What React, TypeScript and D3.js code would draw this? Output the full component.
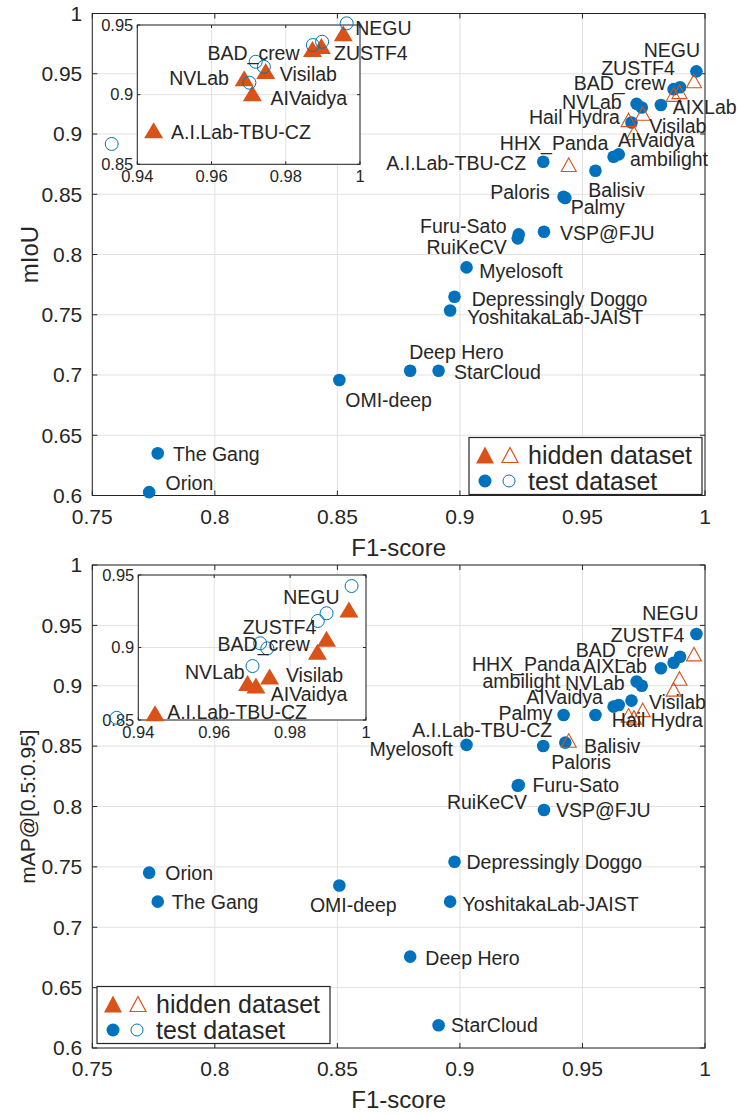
import React, { useEffect, useRef } from "react";
import * as d3 from "d3";

const W = 737;
const H = 1115;
const BLUE = "#0072BD";
const RED = "#D95319";
const INK = "#262626";
const GRID = "#e2e2e2";
const FONT = "'Liberation Sans', Arial, Helvetica, sans-serif";

// test dataset (filled circles in main axes)
const teams = [
  "NEGU", "ZUSTF4", "BAD_crew", "AIXLab", "NVLab", "Visilab", "AIVaidya", "Hail Hydra",
  "ambilight", "A.I.Lab-TBU-CZ", "Balisiv", "Palmy", "Paloris", "Furu-Sato", "RuiKeCV",
  "VSP@FJU", "Myelosoft", "Depressingly Doggo", "YoshitakaLab-JAIST", "Deep Hero",
  "StarCloud", "OMI-deep", "The Gang", "Orion",
];
const f1 = [
  0.9965, 0.9898, 0.9872, 0.982, 0.9721, 0.9742, 0.97, 0.9648,
  0.9627, 0.934, 0.9553, 0.9423, 0.943, 0.924, 0.9236,
  0.9343, 0.9027, 0.8978, 0.896, 0.8797,
  0.8913, 0.8508, 0.7767, 0.7732,
];
const miou = [
  0.952, 0.9388, 0.9372, 0.9241, 0.925, 0.922, 0.9095, 0.8831,
  0.8811, 0.877, 0.8695, 0.8479, 0.8469, 0.8167, 0.8134,
  0.8189, 0.7893, 0.7649, 0.7535, 0.7035,
  0.7035, 0.6958, 0.635, 0.6028,
];
const mapScore = [
  0.9429, 0.924, 0.919, 0.9145, 0.9035, 0.9, 0.8877, 0.8841,
  0.8827, 0.8501, 0.8758, 0.8758, 0.8529, 0.8178, 0.8172,
  0.7971, 0.851, 0.7543, 0.7212, 0.6757,
  0.6189, 0.7346, 0.7212, 0.7452,
];

// hidden dataset (triangles)
const hiddenTeams = ["NEGU", "ZUSTF4", "BAD_crew", "Visilab", "NVLab", "AIVaidya", "A.I.Lab-TBU-CZ"];
const hiddenF1 = [0.9955, 0.9896, 0.9872, 0.9746, 0.9688, 0.971, 0.9444];
const hiddenMiou = [0.944, 0.935, 0.9327, 0.917, 0.9117, 0.901, 0.8745];
const hiddenMap = [0.9262, 0.906, 0.897, 0.88, 0.8755, 0.8738, 0.8546];

// test values as drawn in the insets (open circles)
const insetF1Top = [0.9964, 0.9898, 0.9873, 0.9741, 0.9719, 0.9702, 0.9331];
const insetMiou = [0.9512, 0.938, 0.9356, 0.92, 0.9236, 0.9086, 0.8646];
const insetF1Bottom = [0.9962, 0.9896, 0.9873, 0.974, 0.9721, 0.9701, 0.9343];
const insetMap = [0.9424, 0.9236, 0.9183, 0.8994, 0.9029, 0.8872, 0.8515];

const xTicks = [0.75, 0.8, 0.85, 0.9, 0.95, 1];
const yTicks = [0.6, 0.65, 0.7, 0.75, 0.8, 0.85, 0.9, 0.95, 1];
const insetXTicks = [0.94, 0.96, 0.98, 1];
const insetYTicks = [0.85, 0.9, 0.95];

type Lbl = [string, number, number, "start" | "end"];

const miouLabels: Lbl[] = [
  ["NEGU", 0.998, 0.9697, "end"],
  ["ZUSTF4", 0.9877, 0.955, "end"],
  ["BAD_crew", 0.984, 0.942, "end"],
  ["NVLab", 0.966, 0.9268, "end"],
  ["AIXLab", 0.9868, 0.9226, "start"],
  ["Hail Hydra", 0.9653, 0.9138, "end"],
  ["Visilab", 0.9773, 0.9066, "start"],
  ["AIVaidya", 0.9645, 0.895, "start"],
  ["HHX_Panda", 0.9163, 0.8923, "start"],
  ["A.I.Lab-TBU-CZ", 0.927, 0.8762, "end"],
  ["ambilight", 0.9694, 0.879, "start"],
  ["Balisiv", 0.9524, 0.8535, "start"],
  ["Paloris", 0.9367, 0.8521, "end"],
  ["Palmy", 0.9452, 0.8391, "start"],
  ["Furu-Sato", 0.9191, 0.8239, "end"],
  ["RuiKeCV", 0.9191, 0.8064, "end"],
  ["VSP@FJU", 0.9408, 0.8181, "start"],
  ["Myelosoft", 0.9079, 0.7865, "start"],
  ["Depressingly Doggo", 0.9048, 0.763, "start"],
  ["YoshitakaLab-JAIST", 0.903, 0.7478, "start"],
  ["Deep Hero", 0.8793, 0.7193, "start"],
  ["StarCloud", 0.8976, 0.7027, "start"],
  ["OMI-deep", 0.8532, 0.6792, "start"],
  ["The Gang", 0.7829, 0.6344, "start"],
  ["Orion", 0.7799, 0.6106, "start"],
];

const mapLabels: Lbl[] = [
  ["NEGU", 0.9974, 0.96, "end"],
  ["ZUSTF4", 0.9916, 0.9417, "end"],
  ["BAD_crew", 0.9849, 0.9296, "end"],
  ["HHX_Panda", 0.9049, 0.918, "start"],
  ["AIXLab", 0.9502, 0.916, "start"],
  ["ambilight", 0.9092, 0.9042, "start"],
  ["NVLab", 0.9429, 0.9023, "start"],
  ["AIVaidya", 0.9271, 0.8907, "start"],
  ["Visilab", 0.9771, 0.8866, "start"],
  ["Palmy", 0.9157, 0.8769, "start"],
  ["Hail Hydra", 0.962, 0.8714, "start"],
  ["A.I.Lab-TBU-CZ", 0.8806, 0.8634, "start"],
  ["Myelosoft", 0.8631, 0.8474, "start"],
  ["Balisiv", 0.9506, 0.8501, "start"],
  ["Paloris", 0.9373, 0.8369, "start"],
  ["Furu-Sato", 0.9296, 0.8176, "start"],
  ["RuiKeCV", 0.8947, 0.8033, "start"],
  ["VSP@FJU", 0.9392, 0.7967, "start"],
  ["Depressingly Doggo", 0.9027, 0.7535, "start"],
  ["Orion", 0.7798, 0.7447, "start"],
  ["The Gang", 0.7824, 0.7207, "start"],
  ["OMI-deep", 0.8388, 0.7185, "start"],
  ["YoshitakaLab-JAIST", 0.9011, 0.7193, "start"],
  ["Deep Hero", 0.8859, 0.6743, "start"],
  ["StarCloud", 0.8964, 0.619, "start"],
];

const miouInsetLabels: Lbl[] = [
  ["NEGU", 0.9987, 0.9476, "start"],
  ["ZUSTF4", 0.993, 0.9301, "start"],
  ["BAD_crew", 0.9589, 0.9297, "start"],
  ["Visilab", 0.9784, 0.9148, "start"],
  ["NVLab", 0.9486, 0.9117, "start"],
  ["AIVaidya", 0.9759, 0.8974, "start"],
  ["A.I.Lab-TBU-CZ", 0.9491, 0.873, "start"],
];

const mapInsetLabels: Lbl[] = [
  ["NEGU", 0.9782, 0.9346, "start"],
  ["ZUSTF4", 0.9675, 0.9139, "start"],
  ["BAD_crew", 0.9609, 0.9024, "start"],
  ["NVLab", 0.9523, 0.8833, "start"],
  ["Visilab", 0.9789, 0.881, "start"],
  ["AIVaidya", 0.9749, 0.8679, "start"],
  ["A.I.Lab-TBU-CZ", 0.9476, 0.8557, "start"],
];

const tri = (w: number, h: number) => `M0,${-h / 2}L${w / 2},${h / 2}L${-w / 2},${h / 2}Z`;
const fmt = (v: number) => String(+v.toFixed(2));

function drawAxesFrame(g, x, y, xt, yt, box, tick, fs, xlOff, ylOff) {
  g.append("rect")
    .attr("x", box.left).attr("y", box.top)
    .attr("width", box.right - box.left).attr("height", box.bottom - box.top)
    .attr("fill", "#fff");
  g.selectAll(null).data(xt).join("line")
    .attr("x1", (d) => x(d)).attr("x2", (d) => x(d))
    .attr("y1", box.top).attr("y2", box.bottom)
    .attr("stroke", GRID);
  g.selectAll(null).data(yt).join("line")
    .attr("y1", (d) => y(d)).attr("y2", (d) => y(d))
    .attr("x1", box.left).attr("x2", box.right)
    .attr("stroke", GRID);
  // inward ticks on all four sides
  const tk = g.append("g").attr("stroke", INK);
  xt.forEach((d) => {
    tk.append("line").attr("x1", x(d)).attr("x2", x(d)).attr("y1", box.bottom).attr("y2", box.bottom - tick);
    tk.append("line").attr("x1", x(d)).attr("x2", x(d)).attr("y1", box.top).attr("y2", box.top + tick);
  });
  yt.forEach((d) => {
    tk.append("line").attr("y1", y(d)).attr("y2", y(d)).attr("x1", box.left).attr("x2", box.left + tick);
    tk.append("line").attr("y1", y(d)).attr("y2", y(d)).attr("x1", box.right).attr("x2", box.right - tick);
  });
  g.append("rect")
    .attr("x", box.left).attr("y", box.top)
    .attr("width", box.right - box.left).attr("height", box.bottom - box.top)
    .attr("fill", "none").attr("stroke", INK).attr("stroke-width", 1);
  g.selectAll(null).data(xt).join("text")
    .attr("x", (d) => x(d)).attr("y", box.bottom + xlOff).attr("dy", "0.35em")
    .attr("text-anchor", "middle").attr("font-size", fs).attr("fill", INK)
    .text(fmt);
  g.selectAll(null).data(yt).join("text")
    .attr("x", box.left - ylOff).attr("y", (d) => y(d)).attr("dy", "0.35em")
    .attr("text-anchor", "end").attr("font-size", fs).attr("fill", INK)
    .text(fmt);
}

function drawLabels(g, x, y, labels: Lbl[]) {
  g.selectAll(null).data(labels).join("text")
    .attr("x", (d) => x(d[1])).attr("y", (d) => y(d[2])).attr("dy", "0.35em")
    .attr("text-anchor", (d) => d[3]).attr("font-size", 19.5).attr("fill", INK)
    .text((d) => d[0]);
}

function drawLegend(g, lx, ly) {
  const lg = g.append("g").attr("transform", `translate(${lx},${ly})`);
  lg.append("rect").attr("width", 233).attr("height", 57).attr("fill", "#fff")
    .attr("stroke", INK).attr("stroke-width", 1.2);
  lg.append("path").attr("d", tri(18, 17)).attr("transform", "translate(16,17.5)").attr("fill", RED);
  lg.append("path").attr("d", tri(16, 15)).attr("transform", "translate(41,17.5)")
    .attr("fill", "none").attr("stroke", RED).attr("stroke-width", 1.2);
  lg.append("circle").attr("cx", 16).attr("cy", 43.5).attr("r", 6.5).attr("fill", BLUE);
  lg.append("circle").attr("cx", 40).attr("cy", 43.5).attr("r", 6).attr("fill", "none")
    .attr("stroke", BLUE).attr("stroke-width", 1);
  lg.append("text").attr("x", 59).attr("y", 17.5).attr("dy", "0.35em").attr("font-size", 25)
    .attr("fill", INK).text("hidden dataset");
  lg.append("text").attr("x", 59).attr("y", 43.5).attr("dy", "0.35em").attr("font-size", 25)
    .attr("fill", INK).text("test dataset");
}

function drawPanel(svg, p) {
  const g = svg.append("g");
  const x = d3.scaleLinear().domain([0.75, 1]).range([p.box.left, p.box.right]);
  const y = d3.scaleLinear().domain([0.6, 1]).range([p.box.bottom, p.box.top]);
  drawAxesFrame(g, x, y, xTicks, yTicks, p.box, 5, 21, 21, 10);

  // axis titles
  g.append("text")
    .attr("x", (p.box.left + p.box.right) / 2).attr("y", p.box.bottom + 52).attr("dy", "0.35em")
    .attr("text-anchor", "middle").attr("font-size", 24).attr("fill", INK).text("F1-score");
  g.append("text")
    .attr("transform", `translate(${p.ylabX},${(p.box.top + p.box.bottom) / 2}) rotate(-90)`)
    .attr("dy", "0.35em").attr("text-anchor", "middle").attr("font-size", p.ylabSize)
    .attr("fill", INK).text(p.ylabel);

  // test dataset
  g.selectAll(null).data(teams.map((t, i) => ({ t, a: f1[i], b: p.testY[i] }))).join("circle")
    .attr("cx", (d) => x(d.a)).attr("cy", (d) => y(d.b)).attr("r", 6.3).attr("fill", BLUE);
  // hidden dataset
  g.selectAll(null).data(hiddenTeams.map((t, i) => ({ t, a: hiddenF1[i], b: p.hiddenY[i] }))).join("path")
    .attr("d", tri(15, 13.5))
    .attr("transform", (d) => `translate(${x(d.a)},${y(d.b)})`)
    .attr("fill", "none").attr("stroke", RED).attr("stroke-width", 1.1);

  drawLabels(g, x, y, p.labels);

  // inset
  const ib = p.inset;
  const ig = g.append("g");
  const ix = d3.scaleLinear().domain([0.94, 1]).range([ib.left, ib.right]);
  const iy = d3.scaleLinear().domain([0.85, 0.95]).range([ib.bottom, ib.top]);
  drawAxesFrame(ig, ix, iy, insetXTicks, insetYTicks, ib, 3, 16.5, 12, 4);
  ig.selectAll(null).data(hiddenTeams.map((t, i) => ({ t, a: hiddenF1[i], b: p.hiddenY[i] }))).join("path")
    .attr("d", tri(19, 16))
    .attr("transform", (d) => `translate(${ix(d.a)},${iy(d.b)})`)
    .attr("fill", RED);
  ig.selectAll(null).data(hiddenTeams.map((t, i) => ({ t, a: p.insetX[i], b: p.insetY[i] }))).join("circle")
    .attr("cx", (d) => ix(d.a)).attr("cy", (d) => iy(d.b)).attr("r", 6.5)
    .attr("fill", "none").attr("stroke", BLUE).attr("stroke-width", 1);
  drawLabels(ig, ix, iy, p.insetLabels);

  drawLegend(g, p.legend[0], p.legend[1]);
}

const App = () => {
  const ref = useRef<SVGSVGElement>(null);

  useEffect(() => {
    const svg = d3.select(ref.current);
    svg.selectAll("*").remove();

    drawPanel(svg, {
      box: { left: 92.3, right: 705, top: 13.5, bottom: 495.5 },
      inset: { left: 137.3, right: 360, top: 25, bottom: 164.3 },
      testY: miou,
      hiddenY: hiddenMiou,
      insetX: insetF1Top,
      insetY: insetMiou,
      labels: miouLabels,
      insetLabels: miouInsetLabels,
      ylabel: "mIoU",
      ylabX: 30,
      ylabSize: 24,
      legend: [469, 437.5],
    });
    drawPanel(svg, {
      box: { left: 92.3, right: 705, top: 565, bottom: 1048 },
      inset: { left: 138.3, right: 366, top: 575, bottom: 720 },
      testY: mapScore,
      hiddenY: hiddenMap,
      insetX: insetF1Bottom,
      insetY: insetMap,
      labels: mapLabels,
      insetLabels: mapInsetLabels,
      ylabel: "mAP@[0.5:0.95]",
      ylabX: 28,
      ylabSize: 21,
      legend: [97, 986.5],
    });
  }, []);

  return (
    <svg
      ref={ref}
      width={W}
      height={H}
      style={{ position: "absolute", left: 0, top: 0, background: "#fff", fontFamily: FONT }}
    />
  );
};

export default App;
